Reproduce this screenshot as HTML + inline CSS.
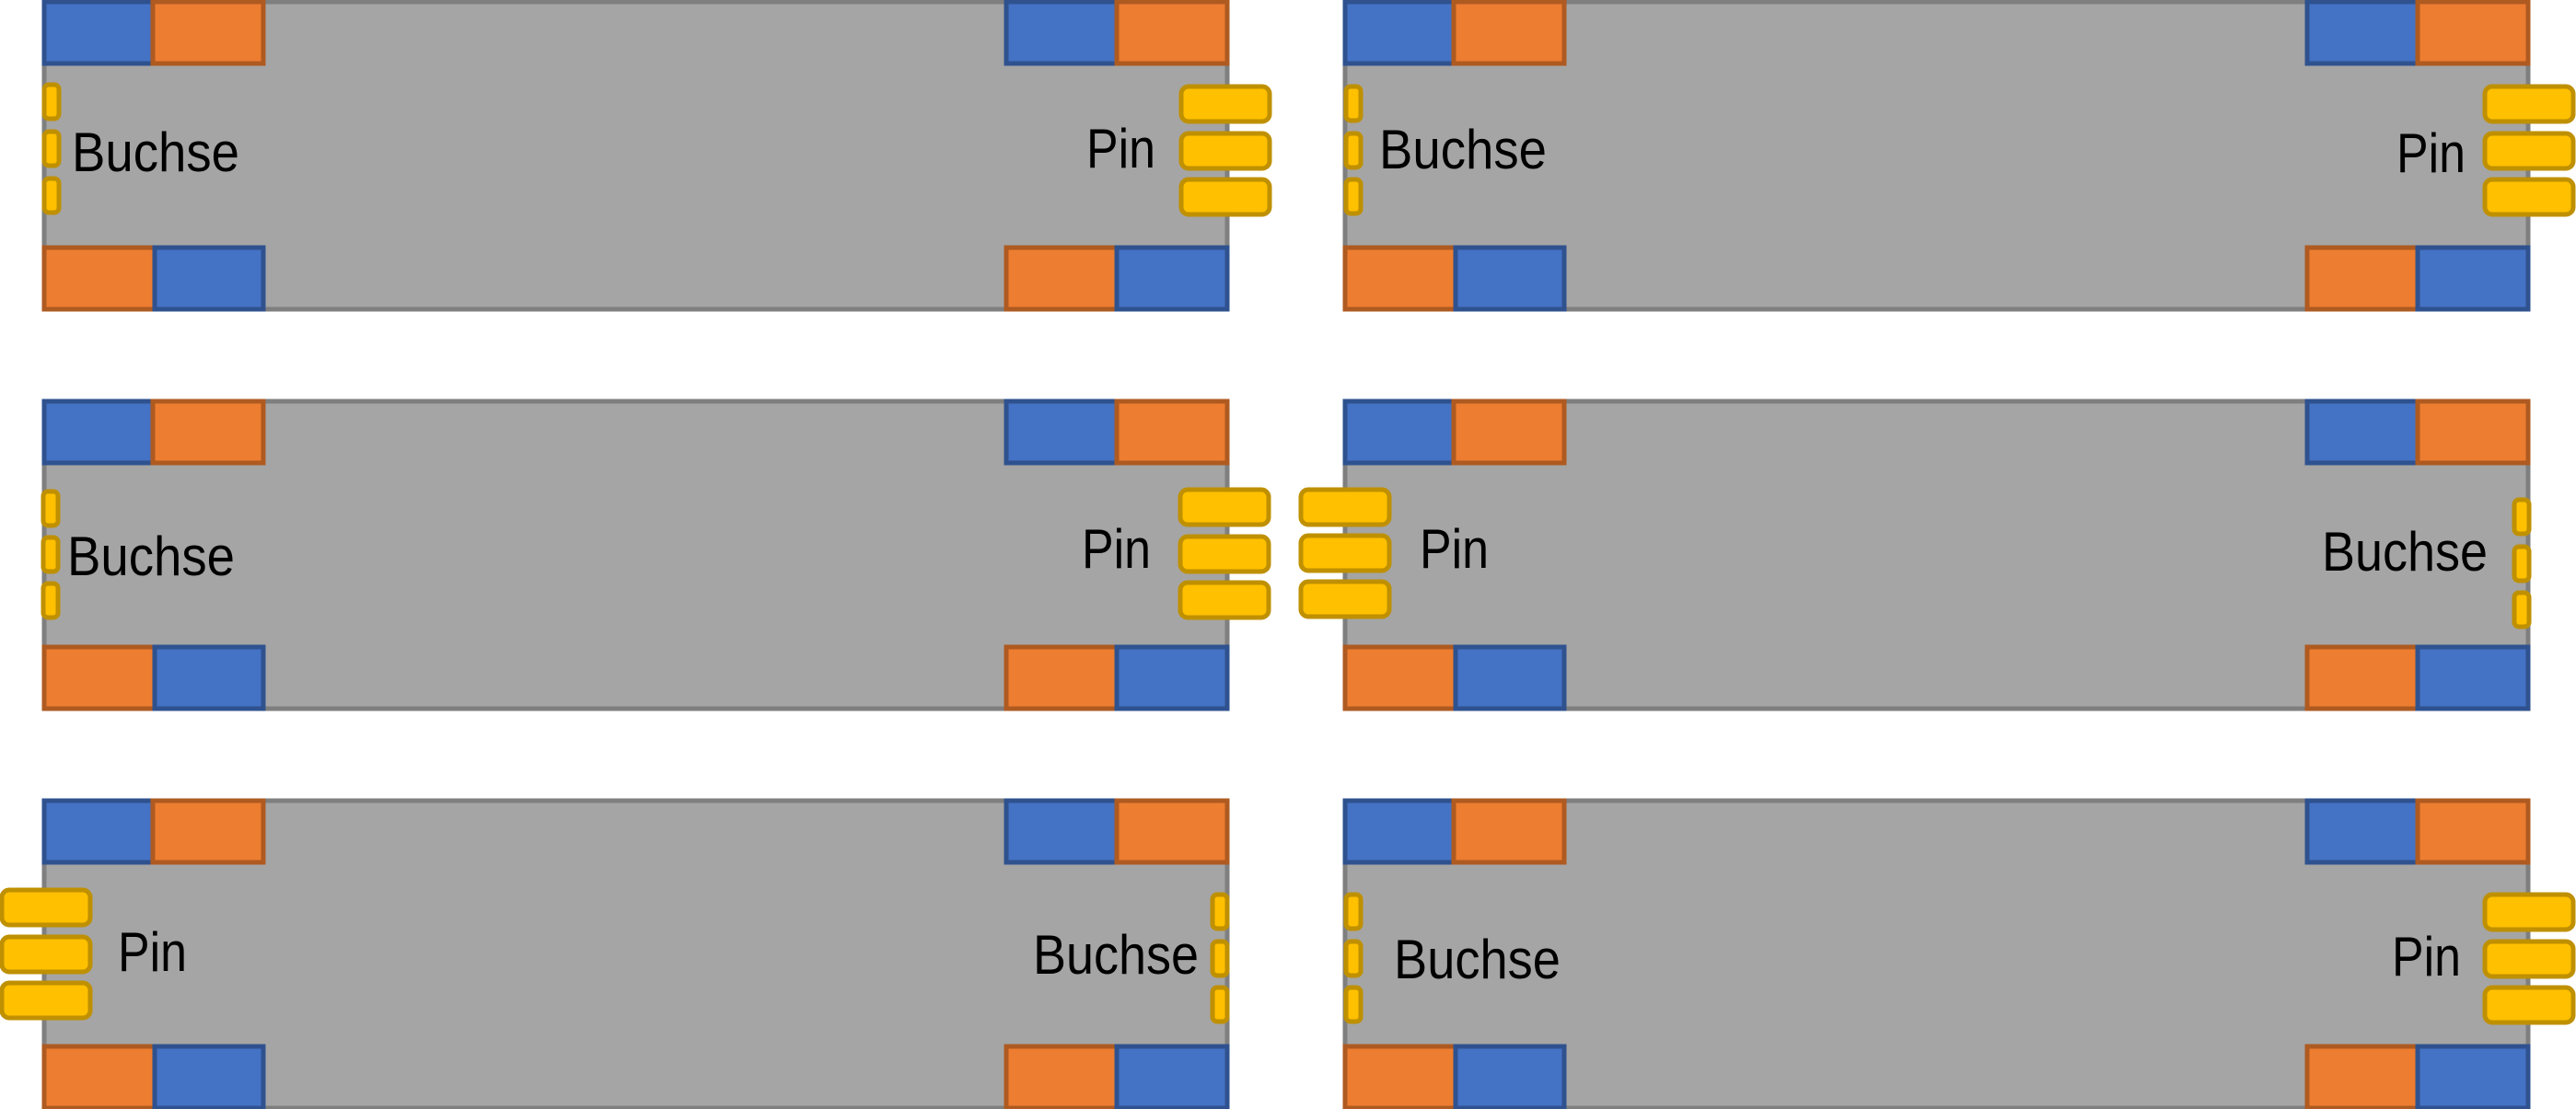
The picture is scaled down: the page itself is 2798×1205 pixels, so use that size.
<!DOCTYPE html>
<html><head><meta charset="utf-8"><style>
html,body{margin:0;padding:0;background:#fff;}
svg{display:block;}
text{font-family:"Liberation Sans",sans-serif;font-size:60px;fill:#000;}
</style></head><body>
<svg width="2798" height="1205" viewBox="0 0 2798 1205" xmlns="http://www.w3.org/2000/svg">
<defs>
<g id="cardL">
<rect x="0" y="0" width="1285" height="334" fill="#a5a5a5" stroke="#7f7f7f" stroke-width="5"/>
<rect x="0" y="0" width="118" height="67" fill="#4472c4" stroke="#2f528f" stroke-width="5"/>
<rect x="118" y="0" width="120" height="67" fill="#ed7d31" stroke="#ae5a21" stroke-width="5"/>
<rect x="1045" y="0" width="120" height="67" fill="#4472c4" stroke="#2f528f" stroke-width="5"/>
<rect x="1165" y="0" width="120" height="67" fill="#ed7d31" stroke="#ae5a21" stroke-width="5"/>
<rect x="0" y="267" width="120" height="67" fill="#ed7d31" stroke="#ae5a21" stroke-width="5"/>
<rect x="120" y="267" width="118" height="67" fill="#4472c4" stroke="#2f528f" stroke-width="5"/>
<rect x="1045" y="267" width="120" height="67" fill="#ed7d31" stroke="#ae5a21" stroke-width="5"/>
<rect x="1165" y="267" width="120" height="67" fill="#4472c4" stroke="#2f528f" stroke-width="5"/>
</g>
<rect id="pin" width="96" height="38" rx="8" fill="#ffc000" stroke="#bf9000" stroke-width="5"/>
<rect id="sock" width="16" height="37" rx="5" fill="#ffc000" stroke="#bf9000" stroke-width="5"/>
</defs>

<!-- Row 1 -->
<use href="#cardL" x="48" y="2"/>
<use href="#cardL" x="1461" y="2"/>
<!-- Row 2 -->
<use href="#cardL" x="48" y="436"/>
<use href="#cardL" x="1461" y="436"/>
<!-- Row 3 -->
<use href="#cardL" x="48" y="870"/>
<use href="#cardL" x="1461" y="870"/>

<!-- Row1 left: sockets left, pins right -->
<use href="#sock" x="48" y="92"/><use href="#sock" x="48" y="143"/><use href="#sock" x="48" y="194"/>
<text x="78" y="186" textLength="182" lengthAdjust="spacingAndGlyphs">Buchse</text>
<use href="#pin" x="1283" y="94"/><use href="#pin" x="1283" y="145"/><use href="#pin" x="1283" y="195"/>
<text x="1180" y="182" textLength="75" lengthAdjust="spacingAndGlyphs">Pin</text>

<!-- Row1 right -->
<use href="#sock" x="1462" y="94"/><use href="#sock" x="1462" y="145"/><use href="#sock" x="1462" y="195"/>
<text x="1498" y="183" textLength="182" lengthAdjust="spacingAndGlyphs">Buchse</text>
<use href="#pin" x="2699" y="94"/><use href="#pin" x="2699" y="145"/><use href="#pin" x="2699" y="195"/>
<text x="2603" y="187" textLength="75" lengthAdjust="spacingAndGlyphs">Pin</text>

<!-- Row2 left -->
<use href="#sock" x="47" y="534"/><use href="#sock" x="47" y="584"/><use href="#sock" x="47" y="634"/>
<text x="73" y="625" textLength="182" lengthAdjust="spacingAndGlyphs">Buchse</text>
<use href="#pin" x="1282" y="532"/><use href="#pin" x="1282" y="583"/><use href="#pin" x="1282" y="633"/>
<text x="1175" y="617" textLength="75" lengthAdjust="spacingAndGlyphs">Pin</text>

<!-- Row2 right -->
<use href="#pin" x="1413" y="532"/><use href="#pin" x="1413" y="582"/><use href="#pin" x="1413" y="632"/>
<text x="1542" y="617" textLength="75" lengthAdjust="spacingAndGlyphs">Pin</text>
<use href="#sock" x="2731" y="543"/><use href="#sock" x="2731" y="594"/><use href="#sock" x="2731" y="644"/>
<text x="2522" y="620" textLength="180" lengthAdjust="spacingAndGlyphs">Buchse</text>

<!-- Row3 left -->
<use href="#pin" x="2" y="967"/><use href="#pin" x="2" y="1018"/><use href="#pin" x="2" y="1068"/>
<text x="128" y="1055" textLength="75" lengthAdjust="spacingAndGlyphs">Pin</text>
<use href="#sock" x="1317" y="972"/><use href="#sock" x="1317" y="1023"/><use href="#sock" x="1317" y="1073"/>
<text x="1122" y="1058" textLength="180" lengthAdjust="spacingAndGlyphs">Buchse</text>

<!-- Row3 right -->
<use href="#sock" x="1462" y="972"/><use href="#sock" x="1462" y="1023"/><use href="#sock" x="1462" y="1073"/>
<text x="1514" y="1063" textLength="181" lengthAdjust="spacingAndGlyphs">Buchse</text>
<use href="#pin" x="2699" y="972"/><use href="#pin" x="2699" y="1023"/><use href="#pin" x="2699" y="1073"/>
<text x="2598" y="1060" textLength="75" lengthAdjust="spacingAndGlyphs">Pin</text>
</svg>
</body></html>
